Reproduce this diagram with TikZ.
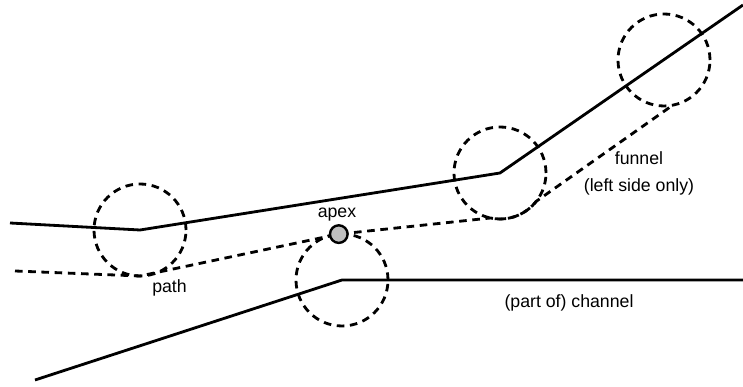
\documentclass[tikz,border=0pt]{standalone}
\usepackage{fontspec}
\setmainfont{Liberation Sans}
\usepackage{tikz}
\definecolor{ApexGray}{HTML}{BFBFBF}

\begin{document}
\begin{tikzpicture}[
    wall/.style={line width=2pt, line join=round},
    walk/.style={line width=2pt, dash pattern=on 5.4pt off 4pt},
    zone/.style={circle, draw, line width=2pt, dash pattern=on 5.4pt off 4pt,
      minimum size=2.3cm, inner sep=0pt, outer sep=0pt},
    apexdot/.style={circle, draw, line width=1.7pt, fill=ApexGray,
      minimum size=0.44cm, inner sep=0pt},
    lbl/.style={font=\fontsize{12.6}{19}\selectfont, align=center}
  ]
  \useasboundingbox (0,0) rectangle (18.575,9.675);
  \node[zone] (c1) at (3.5,3.925) {};
  \node[zone] (c2) at (8.55,2.675) {};
  \node[zone] (c3) at (12.5,5.35) {};
  \node[zone] (c4) at (16.6,8.175) {};
  \coordinate (topstart) at (0.25,4.1);
  \coordinate (topend) at (18.575,9.55);
  \coordinate (botstart) at (0.875,0.175);
  \coordinate (botend) at (18.575,2.675);
  \coordinate (walkstart) at (0.375,2.9);
  \coordinate (apexpt) at (c2.94);
  \draw[wall] (topstart) -- (c1.center) -- (c3.center) -- (topend);
  \draw[wall] (botstart) -- (c2.center) -- (botend);
  \draw[walk] (walkstart) -- (c1.270) -- (apexpt) -- (c3.258)
    arc[start angle=258, end angle=322, radius=1.15cm] -- (c4.281);
  \node[apexdot] (apex) at (apexpt) {};
  \node[lbl] (apexlbl) at (8.425,4.3) {apex};
  \node[lbl] (pathlbl) at (4.2375,2.475) {path};
  \node[lbl] (funnellbl) at (15.975,5.3375) {funnel\\(left side only)};
  \node[lbl] (channellbl) at (14.225,2.1) {(part of) channel};
\end{tikzpicture}
\end{document}
